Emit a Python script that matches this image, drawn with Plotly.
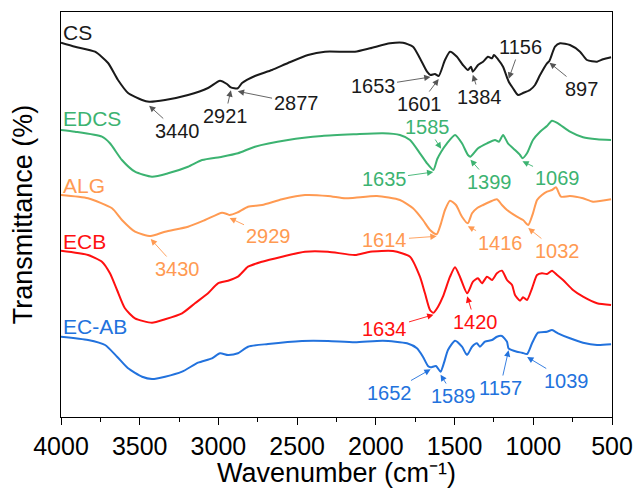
import numpy as np
import plotly.graph_objects as go

# FTIR spectra (wavenumber in cm^-1, transmittance in arbitrary offset units)
cs_wn = [4000, 3911, 3784, 3701, 3638, 3574, 3485, 3440, 3339, 3193, 3066, 2990, 2946, 2921,
         2877, 2850, 2768, 2660, 2558, 2431, 2323, 2133, 2037, 1910, 1828, 1764, 1720, 1675,
         1653, 1625, 1601, 1561, 1529, 1485, 1447, 1415, 1396, 1384, 1351, 1319, 1288, 1262,
         1250, 1224, 1192, 1165, 1156, 1129, 1097, 1065, 1021, 989, 957, 913, 897, 862, 830,
         767, 703, 659, 595, 557, 506]
cs_t = [374.3, 370.3, 365.3, 354, 337, 324, 317, 315.3, 317, 322, 329, 336.3, 333, 329.7,
        328.7, 334, 341, 347, 354, 362, 365.3, 365.3, 368.7, 373.7, 374.3, 370.3, 358.7, 345.3,
        342, 343, 341, 357, 365.3, 360.3, 352, 347, 350.3, 345.3, 352, 355.3, 360.3, 358.7,
        362, 357.7, 350.3, 338.7, 335.3, 328.7, 322, 324, 327, 332, 342, 353.7, 356.3, 370.3,
        373.7, 372, 365.3, 357, 355.3, 357.7, 359.7]

edcs_wn = [4000, 3911, 3740, 3689, 3613, 3530, 3422, 3320, 3193, 3104, 2977, 2876, 2768, 2558,
           2342, 2133, 1955, 1847, 1783, 1720, 1675, 1635, 1610, 1585, 1548, 1497, 1453, 1415,
           1399, 1351, 1294, 1243, 1218, 1192, 1161, 1116, 1084, 1069, 1040, 1002, 957, 913,
           881, 843, 767, 684, 595, 506]
edcs_t = [287, 285.3, 280.3, 273.7, 257, 245.3, 240.3, 243.7, 250.3, 257, 260.3, 263.7, 270.3,
          277, 281, 282.7, 283.7, 282, 277, 263.7, 253.7, 247, 258, 265.3, 273.7, 282, 273.7,
          262, 260.3, 268.7, 273.7, 277, 275.3, 282, 273.7, 267, 262, 258.7, 263.7, 277, 285.3,
          291, 296.3, 293.7, 285.3, 279.7, 277.7, 277]

alg_wn = [4000, 3828, 3676, 3613, 3530, 3430, 3339, 3193, 3085, 2977, 2946, 2929, 2882, 2812,
          2723, 2596, 2450, 2304, 2196, 2133, 1993, 1847, 1764, 1701, 1656, 1614, 1586, 1561,
          1529, 1491, 1453, 1416, 1389, 1358, 1319, 1275, 1231, 1199, 1167, 1104, 1065, 1032,
          1002, 976, 945, 913, 881, 856, 824, 767, 684, 621, 506]
alg_t = [222, 218.7, 208.7, 197, 185.3, 181, 185.3, 190.3, 197, 204.3, 203, 202, 204.3, 210.3,
         212, 217.7, 222, 221, 218.7, 219.3, 221, 217, 208.7, 197, 187, 182.7, 193.7, 207,
         216.3, 212, 200.3, 193.7, 203.7, 208.7, 212, 215.3, 217.7, 212, 207, 200.3, 197, 192,
         203.7, 217, 222, 225.3, 227, 229.7, 220.3, 221, 218.7, 215.3, 217.7]

ecb_wn = [4000, 3828, 3740, 3689, 3644, 3594, 3530, 3422, 3339, 3231, 3149, 3066, 3003, 2939,
          2876, 2812, 2723, 2596, 2450, 2304, 2133, 2037, 1891, 1783, 1720, 1688, 1656, 1634,
          1605, 1574, 1529, 1497, 1466, 1420, 1383, 1351, 1326, 1294, 1262, 1231, 1199, 1167,
          1135, 1116, 1084, 1065, 1040, 1008, 976, 945, 913, 881, 849, 811, 748, 684, 595, 506]
ecb_t = [166.3, 162, 155.3, 143.7, 127, 108.7, 98.7, 94.3, 97.7, 103.7, 113.7, 123.7, 133.7,
         136.3, 140.3, 150.3, 155.3, 160.3, 165.3, 165.3, 162, 165.3, 166, 160.3, 140.3, 123.7,
         107, 104.3, 110.3, 120.3, 140.3, 149.7, 140.3, 123.7, 135.3, 138.7, 133.7, 140.3, 137,
         143.7, 146.3, 137, 132, 122, 116.3, 119.7, 117, 128.7, 142, 143.7, 143, 146.3, 142,
         137, 127, 120.3, 113.7, 112]

ecab_wn = [4000, 3828, 3720, 3644, 3574, 3485, 3422, 3339, 3231, 3130, 3041, 2990, 2939, 2876,
           2812, 2685, 2469, 2304, 2133, 1955, 1802, 1739, 1701, 1669, 1652, 1618, 1589, 1567,
           1542, 1497, 1453, 1421, 1389, 1358, 1339, 1307, 1262, 1231, 1199, 1167, 1157, 1104,
           1072, 1039, 1008, 970, 913, 881, 843, 767, 684, 595, 506]
ecab_t = [80.3, 77, 72, 60.3, 48.7, 40.3, 38, 40.3, 45.3, 54.3, 58.7, 63.7, 62, 63.7, 70.3, 73,
          76, 76, 74.7, 76.3, 73.7, 68.7, 60.3, 51, 49.7, 51, 45.3, 54.3, 67, 76.3, 70.3, 62,
          70.3, 73.7, 70.3, 75.3, 77, 80.3, 81, 75.3, 68.7, 65.3, 64.3, 63, 73.7, 84.3, 85.3,
          87, 83.7, 78.7, 74.3, 72, 72.7]

names = ["CS", "EDCS", "ALG", "ECB", "EC-AB"]
colors = ["#1a1a1a", "#3cb371", "#ff9a52", "#ff1010", "#2272dd"]
arrow_colors = ["#555555", "#3cb371", "#ff9a52", "#ff1010", "#2272dd"]
wns = [cs_wn, edcs_wn, alg_wn, ecb_wn, ecab_wn]
ts = [cs_t, edcs_t, alg_t, ecb_t, ecab_t]
name_y = [385, 299, 232, 176, 91]

# Peak labels: (series index, peak wavenumber, tip offset, text position wn, text position t)
peaks = [
    (0, 3440, -4, 3263, 286), (0, 2921, -3, 2958, 301), (0, 2877, -3, 2507, 314),
    (0, 1653, -2, 2018, 331), (0, 1601, -3, 1720, 313), (0, 1384, -3, 1339, 320),
    (0, 1156, 3, 1084, 370), (0, 897, -2, 691, 328),
    (1, 1585, 3, 1675, 290), (1, 1635, -2, 1948, 238), (1, 1399, -3, 1275, 235),
    (1, 1069, -3, 849, 239),
    (2, 3430, -3, 3257, 148), (2, 2929, -3, 2685, 181), (2, 1614, -2, 1942, 177),
    (2, 1416, -3, 1211, 174), (2, 1032, -3, 849, 166),
    (3, 1634, -2, 1942, 88), (3, 1420, -3, 1370, 95),
    (4, 1652, -2, 1916, 24), (4, 1589, -3, 1504, 21), (4, 1157, -2, 1211, 29),
    (4, 1039, -3, 786, 36),
]

FONT = "Arial, Liberation Sans, sans-serif"

fig = go.Figure()
for name, c, wn, t in zip(names, colors, wns, ts):
    fig.add_trace(go.Scatter(x=wn, y=t, mode="lines", name=name,
                             line=dict(color=c, width=2, shape="spline", smoothing=0.6),
                             showlegend=False))

annotations = []
for name, c, y in zip(names, colors, name_y):
    annotations.append(dict(x=4000, y=y, xref="x", yref="y", text=name, showarrow=False,
                            xanchor="left", yanchor="middle",
                            font=dict(family=FONT, size=21, color=c)))

for idx, wn_peak, dy, tx, ty in peaks:
    wn = np.array(wns[idx])[::-1]
    t = np.array(ts[idx])[::-1]
    tip = float(np.interp(wn_peak, wn, t)) + dy
    annotations.append(dict(x=wn_peak, y=tip, xref="x", yref="y",
                            ax=tx, ay=ty, axref="x", ayref="y",
                            text=str(wn_peak), showarrow=True,
                            arrowhead=2, arrowsize=1.4, arrowwidth=0.9,
                            arrowcolor=arrow_colors[idx], standoff=0,
                            font=dict(family=FONT, size=20, color=colors[idx])))

# x-axis title, set just below the tick labels
annotations.append(dict(x=0.5, y=-0.18, xref="paper", yref="paper",
                        xanchor="center", yanchor="bottom", showarrow=False,
                        text="Wavenumber (cm\u207b\u00b9)",
                        font=dict(family=FONT, size=27, color="black")))

fig.update_layout(
    width=636, height=490,
    margin=dict(l=61, r=24, t=12, b=73, autoexpand=False),
    paper_bgcolor="white", plot_bgcolor="white",
    annotations=annotations,
    xaxis=dict(range=[4000, 500], tickmode="linear", tick0=500, dtick=500,
               automargin=False,
               ticks="outside", ticklen=7, tickwidth=1.3, tickcolor="black",
               minor=dict(dtick=250, tick0=500, ticks="outside", ticklen=4,
                          tickwidth=1.3, tickcolor="black", showgrid=False),
               showline=True, linewidth=1.3, linecolor="black", mirror=True,
               showgrid=False, zeroline=False,
               tickfont=dict(family=FONT, size=25, color="black")),
    yaxis=dict(range=[0, 405], showticklabels=False, ticks="", automargin=False,
               showline=True, linewidth=1.3, linecolor="black", mirror=True,
               showgrid=False, zeroline=False,
               title=dict(text="Transmittance (%)", standoff=19,
                          font=dict(family=FONT, size=27, color="black"))),
)

fig.write_html("out.html")
